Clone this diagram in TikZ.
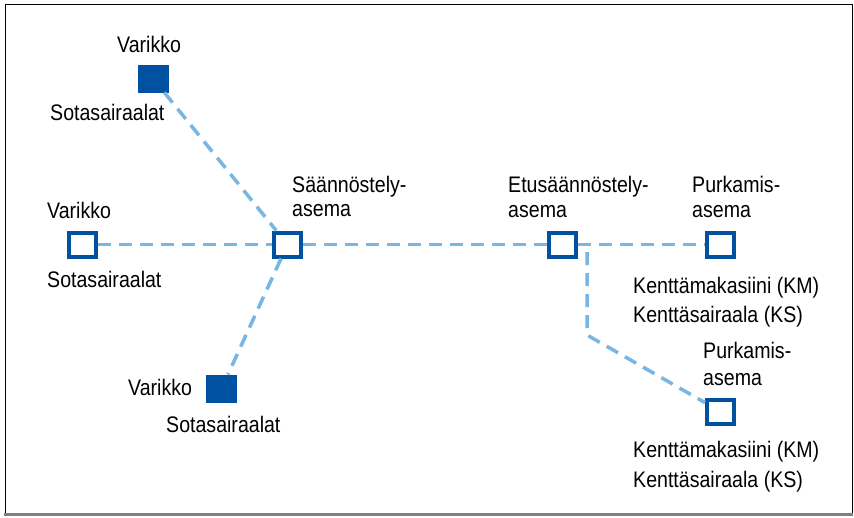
\documentclass[tikz,border=0pt]{standalone}
\usepackage{fontspec}
\setmainfont{Liberation Sans}[FakeStretch=0.87]
\definecolor{dblue}{RGB}{0,82,160}
\definecolor{lblue}{RGB}{120,182,228}
\begin{document}
\begin{tikzpicture}[x=1pt,y=-1pt,
  sq/.style={rectangle,inner sep=0pt,minimum width=27pt,minimum height=24pt,line width=4pt,draw=dblue,fill=white},
  sqf/.style={sq,fill=dblue},
  lbl/.style={anchor=base west,inner sep=0pt,font=\fontsize{22.5pt}{26pt}\selectfont},
  conn/.style={draw=lblue,line width=3.5pt,dash pattern=on 13pt off 8pt}]
\useasboundingbox (0,0) rectangle (854,517);
\draw[black,line width=1pt] (5,4) rectangle (852,514);
\draw[gray,line width=2.5pt] (4,514.5) -- (853,514.5);
% squares
\node[sqf] (dtop) at (153,78.5) {};
\node[sq]  (dleft) at (82.5,244.5) {};
\node[sq]  (reg) at (287.5,244.5) {};
\node[sqf] (dbot) at (221.5,388.5) {};
\node[sq]  (fwd) at (562,244.5) {};
\node[sq]  (unl1) at (720.5,244.5) {};
\node[sq]  (unl2) at (720.5,411.5) {};
\coordinate (j) at (587,252);
\coordinate (bend) at (587,335);
% connectors
\draw[conn] (dtop) -- (reg);
\draw[conn] (dleft) -- (reg);
\draw[conn] (reg) -- (dbot);
\draw[conn] (reg) -- (fwd);
\draw[conn] (fwd) -- (unl1);
\draw[conn,rounded corners=3pt] (j) -- (bend) -- (unl2);
% labels
\node[lbl] (t1) at (117,52) {Varikko};
\node[lbl] (t2) at (50,120) {Sotasairaalat};
\node[lbl] (l1) at (47,218) {Varikko};
\node[lbl] (l2) at (47,287) {Sotasairaalat};
\node[lbl] (b1) at (128,395) {Varikko};
\node[lbl] (b2) at (166,432) {Sotasairaalat};
\node[lbl] (r1) at (292,192) {Säännöstely-};
\node[lbl] (r2) at (292,216) {asema};
\node[lbl] (f1) at (508,192) {Etusäännöstely-};
\node[lbl] (f2) at (508,217) {asema};
\node[lbl] (u1) at (692,192) {Purkamis-};
\node[lbl] (u2) at (692,217) {asema};
\node[lbl] (k1) at (633,293) {Kenttämakasiini (KM)};
\node[lbl] (k2) at (633,322) {Kenttäsairaala (KS)};
\node[lbl] (v1) at (703,358) {Purkamis-};
\node[lbl] (v2) at (703,385) {asema};
\node[lbl] (m1) at (633,457) {Kenttämakasiini (KM)};
\node[lbl] (m2) at (633,487) {Kenttäsairaala (KS)};
\end{tikzpicture}
\end{document}
